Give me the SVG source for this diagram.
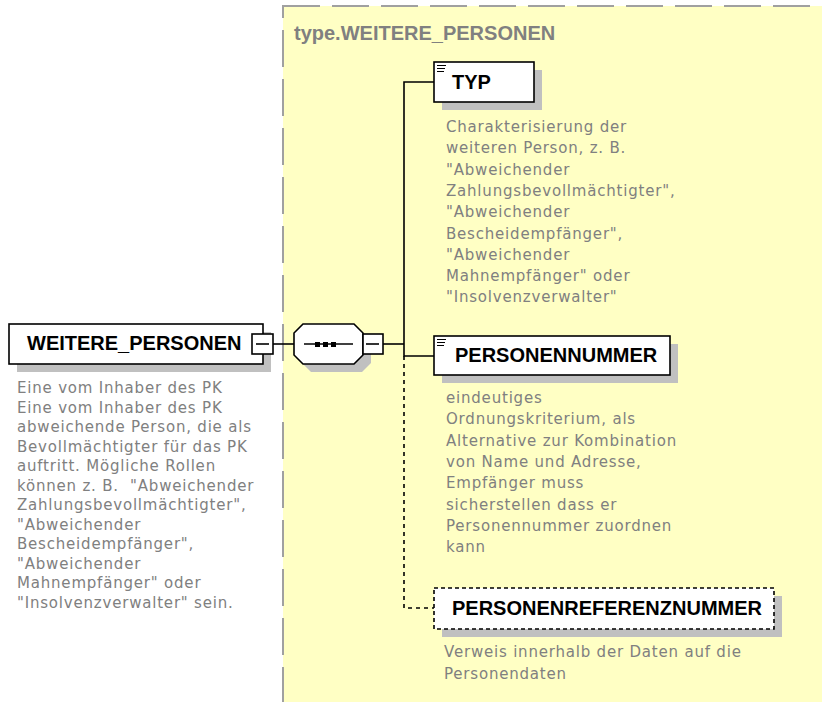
<svg xmlns="http://www.w3.org/2000/svg" width="822" height="702" viewBox="0 0 822 702">
<style>
.bg{fill:#ffffc4;stroke:#a0a0a0;stroke-width:2;stroke-dasharray:37 12}
.box{fill:#ffffff;stroke:#000000;stroke-width:1.6}
.dbox{fill:#ffffff;stroke:#000000;stroke-width:1.6;stroke-dasharray:4 3}
.shadow{fill:#c0c0c0}
.name{font-family:"Liberation Sans",Arial,sans-serif;font-weight:bold;font-size:20px;fill:#000000}
.tname{font-family:"Liberation Sans",Arial,sans-serif;font-weight:bold;font-size:20px;fill:#808080}
.desc{font-family:"DejaVu Sans",Verdana,sans-serif;font-size:15px;letter-spacing:0.8px;fill:#808080}
.line{stroke:#000000;stroke-width:1.6;fill:none}
.dline{stroke:#000000;stroke-width:1.6;fill:none;stroke-dasharray:4 4}
.icon{stroke:#000000;stroke-width:1;fill:none}
</style>
<rect width="822" height="702" fill="#ffffff"/>
<g id="type_group">
<rect class="bg" x="283" y="6" width="560" height="720"/>
<text class="tname" x="294" y="40">type.WEITERE_PERSONEN</text>
</g>
<g id="connectors">
<line class="line" x1="273" y1="344" x2="294" y2="344"/>
<line class="line" x1="383" y1="344" x2="404" y2="344"/>
<polyline class="line" points="434,82 404,82 404,356 434,356"/>
<polyline class="dline" points="404,356 404,608 434,608"/>
</g>
<g id="WEITERE_PERSONEN">
<rect class="shadow" x="17" y="332" width="254" height="40"/>
<rect class="box" x="9" y="324" width="254" height="40"/>
<text class="name" x="27" y="350">WEITERE_PERSONEN</text>
<rect class="box" x="252" y="334" width="21" height="20"/>
<line class="line" x1="256" y1="344" x2="269" y2="344"/>
<text class="desc" xml:space="preserve"><tspan x="17" y="393">Eine vom Inhaber des PK</tspan><tspan x="17" y="412.5">Eine vom Inhaber des PK</tspan><tspan x="17" y="432">abweichende Person, die als</tspan><tspan x="17" y="451.5">Bevollmächtigter für das PK</tspan><tspan x="17" y="471">auftritt. Mögliche Rollen</tspan><tspan x="17" y="490.5">können z. B.  "Abweichender</tspan><tspan x="17" y="510">Zahlungsbevollmächtigter",</tspan><tspan x="17" y="529.5">"Abweichender</tspan><tspan x="17" y="549">Bescheidempfänger",</tspan><tspan x="17" y="568.5">"Abweichender</tspan><tspan x="17" y="588">Mahnempfänger" oder</tspan><tspan x="17" y="607.5">"Insolvenzverwalter" sein.</tspan></text>
</g>
<g id="sequence">
<polygon class="shadow" points="311,332 362,332 371,341 371,363 362,372 311,372 302,363 302,341"/>
<polygon class="box" points="303,324 354,324 363,333 363,355 354,364 303,364 294,355 294,333"/>
<line class="line" x1="304" y1="344" x2="353" y2="344"/>
<rect x="315" y="342" width="5" height="5" fill="#000"/>
<rect x="323" y="342" width="5" height="5" fill="#000"/>
<rect x="331" y="342" width="5" height="5" fill="#000"/>
<rect class="box" x="363" y="334" width="20" height="20"/>
<line class="line" x1="366" y1="344" x2="379" y2="344"/>
</g>
<g id="TYP">
<rect class="shadow" x="442" y="70" width="100" height="40"/>
<rect class="box" x="434" y="62" width="100" height="40"/>
<line class="icon" x1="437" y1="65.5" x2="446" y2="65.5"/>
<line class="icon" x1="437" y1="68.5" x2="445" y2="68.5"/>
<line class="icon" x1="437" y1="71.5" x2="444" y2="71.5"/>
<text class="name" x="452" y="89">TYP</text>
<text class="desc">
<tspan x="446" y="132">Charakterisierung der</tspan>
<tspan x="446" y="153.3">weiteren Person, z. B.</tspan>
<tspan x="446" y="174.6">"Abweichender</tspan>
<tspan x="446" y="195.9">Zahlungsbevollmächtigter",</tspan>
<tspan x="446" y="217.2">"Abweichender</tspan>
<tspan x="446" y="238.5">Bescheidempfänger",</tspan>
<tspan x="446" y="259.8">"Abweichender</tspan>
<tspan x="446" y="281.1">Mahnempfänger" oder</tspan>
<tspan x="446" y="302.4">"Insolvenzverwalter"</tspan>
</text>
</g>
<g id="PERSONENNUMMER">
<rect class="shadow" x="442" y="344" width="236" height="39"/>
<rect class="box" x="434" y="336" width="236" height="39"/>
<line class="icon" x1="437" y1="339.5" x2="446" y2="339.5"/>
<line class="icon" x1="437" y1="342.5" x2="445" y2="342.5"/>
<line class="icon" x1="437" y1="345.5" x2="444" y2="345.5"/>
<text class="name" x="455" y="362">PERSONENNUMMER</text>
<text class="desc">
<tspan x="446" y="403">eindeutiges</tspan>
<tspan x="446" y="424.3">Ordnungskriterium, als</tspan>
<tspan x="446" y="445.6">Alternative zur Kombination</tspan>
<tspan x="446" y="466.9">von Name und Adresse,</tspan>
<tspan x="446" y="488.2">Empfänger muss</tspan>
<tspan x="446" y="509.5">sicherstellen dass er</tspan>
<tspan x="446" y="530.8">Personennummer zuordnen</tspan>
<tspan x="446" y="552.1">kann</tspan>
</text>
</g>
<g id="PERSONENREFERENZNUMMER">
<rect class="shadow" x="442" y="596" width="340" height="41"/>
<rect class="dbox" x="434" y="588" width="340" height="41"/>
<text class="name" x="452" y="615">PERSONENREFERENZNUMMER</text>
<text class="desc">
<tspan x="444" y="657">Verweis innerhalb der Daten auf die</tspan>
<tspan x="444" y="679">Personendaten</tspan>
</text>
</g>
</svg>
